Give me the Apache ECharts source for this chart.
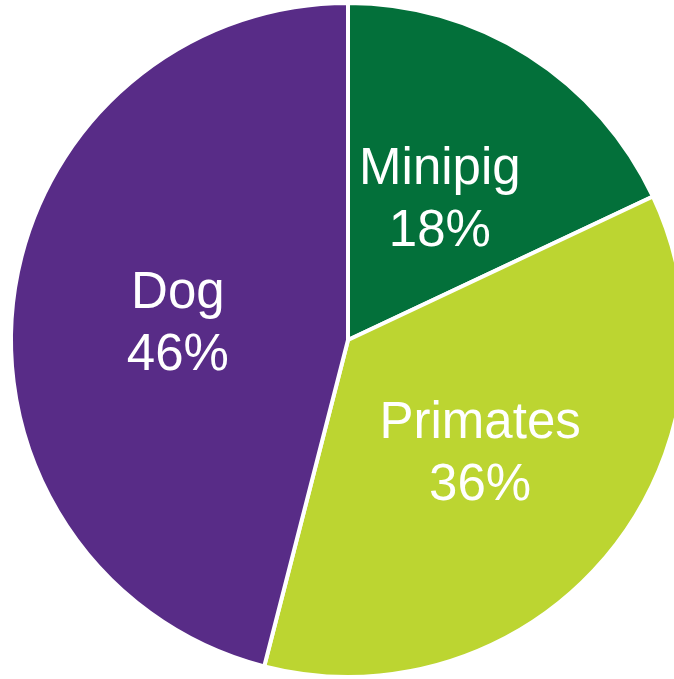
<!DOCTYPE html>
<html>
<head>
<meta charset="utf-8">
<style>
  html, body { margin: 0; padding: 0; background: #ffffff; }
  #chart { width: 674px; height: 679px; }
</style>
<script src="https://cdn.jsdelivr.net/npm/echarts@6/dist/echarts.min.js"></script>
</head>
<body>
<div id="chart"></div>
<script>
// Share of studies by species
const species = ['Minipig', 'Primates', 'Dog'];
const shares = [18, 36, 46];
const colors = ['#03703a', '#bcd531', '#582c87'];

const chart = echarts.init(document.getElementById('chart'));
chart.setOption({
  animation: false,
  series: [{
    type: 'pie',
    center: [348, 340],
    radius: [0, 337],
    startAngle: 90,
    clockwise: true,
    data: species.map((name, i) => ({
      name: name,
      value: shares[i],
      itemStyle: { color: colors[i] }
    })),
    itemStyle: { borderColor: '#ffffff', borderWidth: 4 },
    label: {
      show: true,
      position: 'inside',
      formatter: p => p.name + '\n' + p.value + '%',
      color: '#ffffff',
      fontFamily: 'Liberation Sans, Arial, sans-serif',
      fontSize: 51,
      lineHeight: 62,
      align: 'center',
      offset: [0, 6]
    },
    labelLine: { show: false },
    emphasis: { disabled: true }
  }]
});
</script>
</body>
</html>
